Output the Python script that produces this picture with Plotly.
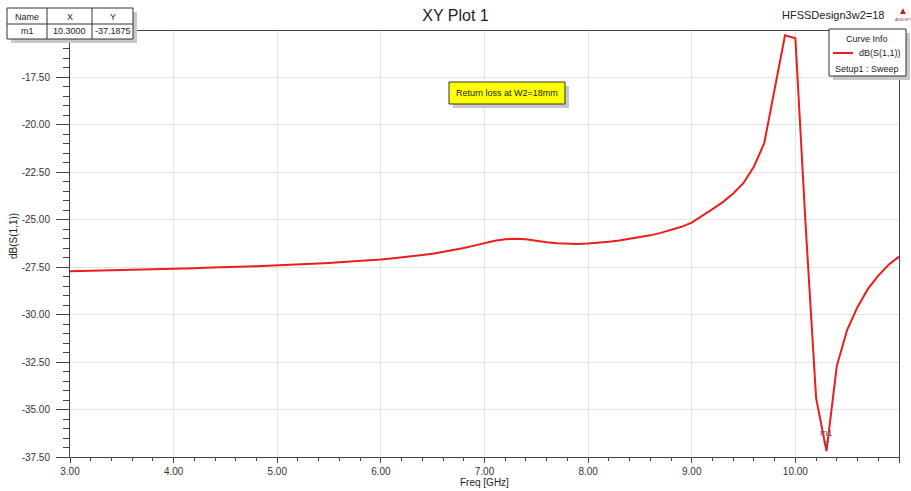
import plotly.graph_objects as go

# ---------------- data ----------------
freq_ghz = [3.0, 3.1, 3.2, 3.3, 3.4, 3.5, 3.6, 3.7, 3.8, 3.9,
            4.0, 4.1, 4.2, 4.3, 4.4, 4.5, 4.6, 4.7, 4.8, 4.9,
            5.0, 5.1, 5.2, 5.3, 5.4, 5.5, 5.6, 5.7, 5.8, 5.9,
            6.0, 6.1, 6.2, 6.3, 6.4, 6.5, 6.6, 6.7, 6.8, 6.9,
            7.0, 7.1, 7.2, 7.3, 7.4, 7.5, 7.6, 7.7, 7.8, 7.9,
            8.0, 8.1, 8.2, 8.3, 8.4, 8.5, 8.6, 8.7, 8.8, 8.9,
            9.0, 9.1, 9.2, 9.3, 9.4, 9.5, 9.6, 9.7, 9.8, 9.9,
            10.0, 10.1, 10.2, 10.3, 10.4, 10.5, 10.6, 10.7, 10.8, 10.9, 11.0]
s11_db = [-27.72, -27.71, -27.70, -27.69, -27.68, -27.67, -27.66, -27.65, -27.63, -27.61,
          -27.59, -27.58, -27.56, -27.54, -27.53, -27.51, -27.49, -27.47, -27.45, -27.43,
          -27.41, -27.39, -27.37, -27.34, -27.31, -27.28, -27.25, -27.22, -27.18, -27.14,
          -27.10, -27.05, -27.00, -26.94, -26.87, -26.80, -26.71, -26.61, -26.50, -26.37,
          -26.22, -26.11, -26.03, -26.01, -26.04, -26.12, -26.19, -26.24, -26.27, -26.28,
          -26.26, -26.22, -26.17, -26.10, -26.02, -25.93, -25.83, -25.70, -25.55, -25.38,
          -25.16, -24.82, -24.45, -24.08, -23.62, -23.07, -22.20, -20.97, -18.17, -15.30,
          -15.45, -25.40, -34.40, -37.1875, -32.70, -30.80, -29.60, -28.65, -27.95, -27.38, -26.95]

marker_name = "m1"
marker_x = 10.3
marker_y = -37.1875

x_tick_vals = [3, 4, 5, 6, 7, 8, 9, 10, 11]
x_tick_text = ["3.00", "4.00", "5.00", "6.00", "7.00", "8.00", "9.00", "10.00", "11.00"]
y_tick_vals = [-17.5, -20.0, -22.5, -25.0, -27.5, -30.0, -32.5, -35.0, -37.5]
y_tick_text = ["-17.50", "-20.00", "-22.50", "-25.00", "-27.50", "-30.00", "-32.50", "-35.00", "-37.50"]

# ---------------- layout helpers ----------------
W, H = 911, 491
PL, PR, PT, PB = 70, 899, 31, 457
FONT = "Liberation Sans, Arial, sans-serif"


def px(x):
    return (x - PL) / (PR - PL)


def py(y):
    return (PB - y) / (PB - PT)


fig = go.Figure()
fig.add_trace(go.Scatter(x=freq_ghz, y=s11_db, mode="lines",
                         line=dict(color="#ee1c1c", width=2), showlegend=False,
                         hoverinfo="x+y"))

shapes = []
annotations = []


def rect(x0, y0, x1, y1, fill, line="#333333", lw=1, shadow=False):
    if shadow:
        shapes.append(dict(type="rect", xref="paper", yref="paper",
                           x0=px(x0 + 4), x1=px(x1 + 4), y0=py(y0 + 4), y1=py(y1 + 4),
                           fillcolor="#c8c8c8", line=dict(width=0), layer="above"))
    shapes.append(dict(type="rect", xref="paper", yref="paper",
                       x0=px(x0), x1=px(x1), y0=py(y0), y1=py(y1),
                       fillcolor=fill, line=dict(color=line, width=lw), layer="above"))


def seg(x0, y0, x1, y1, color="#333333", w=1):
    shapes.append(dict(type="line", xref="paper", yref="paper",
                       x0=px(x0), x1=px(x1), y0=py(y0), y1=py(y1),
                       line=dict(color=color, width=w), layer="above"))


def text(x, y, s, size=9, color="#222222", xanchor="center", yanchor="middle"):
    annotations.append(dict(xref="paper", yref="paper", x=px(x), y=py(y), text=s,
                            showarrow=False, xanchor=xanchor, yanchor=yanchor,
                            font=dict(family=FONT, size=size, color=color)))


# marker table (top-left)
rect(7, 8, 133, 39, "white", shadow=True)
seg(47, 8, 47, 39)
seg(92, 8, 92, 39)
seg(7, 24, 133, 24)
text(27, 16.5, "Name")
text(69.5, 16.5, "X")
text(112.5, 16.5, "Y")
text(27, 31.5, marker_name)
text(69.5, 31.5, f"{marker_x:.4f}")
text(112.5, 31.5, f"{marker_y:.4f}")

# curve info box (top-right)
rect(829, 29, 906, 76, "white", shadow=True)
text(867, 39, "Curve Info")
seg(833, 53, 853, 53, color="#ee1c1c", w=2)
text(903, 53, "dB(S(1,1))", xanchor="right")
text(867, 69, "Setup1 : Sweep")

# yellow note
rect(449, 82, 565, 104, "#ffff00", shadow=True)
text(507, 93, "Return loss at W2=18mm", size=9)

# headers
annotations.append(dict(xref="paper", yref="paper", x=px(886), y=py(15), text="HFSSDesign3w2=18",
                        showarrow=False, xanchor="right", yanchor="middle",
                        font=dict(family=FONT, size=11, color="#222222")))
text(903, 11, "▲", size=10, color="#b22222")
text(903, 20, "ANSOFT", size=4, color="#b22222")

# marker m1
annotations.append(dict(x=marker_x, y=marker_y, xref="x", yref="y", text="▽", showarrow=False,
                        yshift=8, font=dict(family="DejaVu Sans", size=8, color="#555555")))
annotations.append(dict(x=marker_x, y=marker_y, xref="x", yref="y", text=marker_name, showarrow=False,
                        yshift=18, font=dict(family=FONT, size=9, color="#555555")))

# axis titles
annotations.append(dict(xref="paper", yref="paper", x=0.5, y=py(482), text="Freq [GHz]",
                        showarrow=False, xanchor="center", yanchor="middle",
                        font=dict(family=FONT, size=10, color="#222222")))
annotations.append(dict(xref="paper", yref="paper", x=px(14), y=py(236), text="dB(S(1,1))",
                        showarrow=False, textangle=-90, xanchor="center", yanchor="middle",
                        font=dict(family=FONT, size=10, color="#222222")))

fig.update_layout(
    width=W, height=H,
    margin=dict(l=PL, r=W - PR, t=PT, b=H - PB),
    paper_bgcolor="white", plot_bgcolor="white",
    title=dict(text="XY Plot 1", x=0.5, xref="container", xanchor="center",
               y=1 - 15 / H, yref="container", yanchor="middle",
               font=dict(family=FONT, size=16, color="#222222")),
    shapes=shapes, annotations=annotations,
    font=dict(family=FONT, size=10, color="#333333"),
)
fig.update_xaxes(range=[3, 11], tickvals=x_tick_vals, ticktext=x_tick_text,
                 showgrid=True, gridcolor="#e3e3e3", gridwidth=1,
                 showline=True, linecolor="#444444", linewidth=1, mirror=True,
                 ticks="outside", ticklen=5, tickcolor="#444444",
                 minor=dict(dtick=0.2, ticks="outside", ticklen=3, tickcolor="#444444", showgrid=False),
                 tickfont=dict(family=FONT, size=10, color="#333333"), zeroline=False)
fig.update_yaxes(range=[-37.5, -15.07], tickvals=y_tick_vals, ticktext=y_tick_text,
                 showgrid=True, gridcolor="#e3e3e3", gridwidth=1,
                 showline=True, linecolor="#444444", linewidth=1, mirror=True,
                 ticks="outside", ticklen=13, tickcolor="#444444",
                 minor=dict(dtick=0.5, ticks="outside", ticklen=6, tickcolor="#444444", showgrid=False),
                 ticklabelstandoff=4,
                 tickfont=dict(family=FONT, size=10, color="#333333"), zeroline=False)

fig.write_html("out.html", config={"displayModeBar": False},
               post_script="document.body.style.margin='0px';document.body.style.overflow='hidden';")
